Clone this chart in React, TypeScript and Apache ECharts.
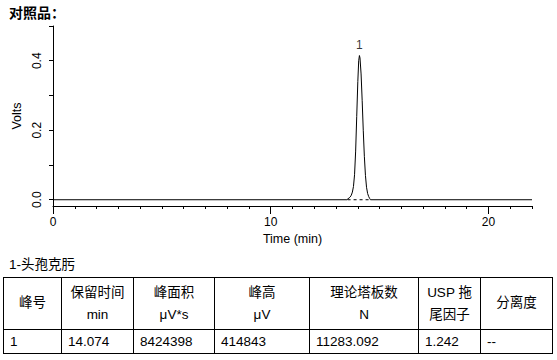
import { useEffect, useRef } from "react";
import * as echarts from "echarts";

// ---------- data ----------
const sampleTitle = "对照品：";
const compoundTitle = "1-头孢克肟";

const timeMin = [
  0, 13.5, 13.55, 13.6, 13.65, 13.7, 13.75, 13.8, 13.85, 13.9, 13.95, 14.0, 14.04,
  14.074, 14.1, 14.15, 14.2, 14.25, 14.3, 14.35, 14.4, 14.45, 14.5, 14.55, 14.58, 22,
];
const volts = [
  0, 0, 0.003, 0.005, 0.008, 0.013, 0.022, 0.038, 0.072, 0.14, 0.24, 0.34, 0.4,
  0.415, 0.408, 0.362, 0.285, 0.2, 0.125, 0.07, 0.036, 0.018, 0.009, 0.003, 0, 0,
];

const peakTimes = [14.074];
const peakHeights = [0.415];
const peakNames = ["1"];

const baselineTimes = [13.53, 14.57];
const baselineVolts = [0, 0];

const xTickValues = [0, 1, 2, 3, 4, 5, 6, 7, 8, 9, 10, 11, 12, 13, 14, 15, 16, 17, 18, 19, 20, 21, 22];
const xMajorValues = [0, 10, 20];
const yTickValues = [0, 0.1, 0.2, 0.3, 0.4, 0.5];
const yLabelValues = [0, 0.2, 0.4];

const tableHeadLine1 = ["峰号", "保留时间", "峰面积", "峰高", "理论塔板数", "USP 拖", "分离度"];
const tableHeadLine2 = ["", "min", "μV*s", "μV", "N", "尾因子", ""];
const tableRow = ["1", "14.074", "8424398", "414843", "11283.092", "1.242", "--"];

// ---------- layout ----------
const W = 557;
const H = 360;
const FONT = "'Liberation Sans', Arial, 'Noto Sans CJK SC', sans-serif";
const colX = [3, 61, 133, 214, 309, 418, 480, 552];
const rowY = [277, 329, 353];

function buildTable(): any[] {
  const els: any[] = [];
  const line = (x1: number, y1: number, x2: number, y2: number) => ({
    type: "line",
    shape: { x1, y1, x2, y2 },
    style: { stroke: "#000", lineWidth: 1 },
    silent: true,
  });
  rowY.forEach((y) => els.push(line(colX[0], y + 0.5, colX[colX.length - 1], y + 0.5)));
  colX.forEach((x) => els.push(line(x + 0.5, rowY[0], x + 0.5, rowY[rowY.length - 1] + 1)));
  const txt = (text: string, x: number, y: number, align: string) => ({
    type: "text",
    x,
    y,
    silent: true,
    style: {
      text,
      fill: "#000",
      fontSize: 13.5,
      fontFamily: FONT,
      textAlign: align,
      textVerticalAlign: "middle",
      align,
      verticalAlign: "middle",
    },
  });
  for (let i = 0; i < tableHeadLine1.length; i++) {
    const cx = (colX[i] + colX[i + 1]) / 2 + 0.5;
    if (tableHeadLine2[i]) {
      els.push(txt(tableHeadLine1[i], cx, 292, "center"));
      els.push(txt(tableHeadLine2[i], cx, 314, "center"));
    } else {
      els.push(txt(tableHeadLine1[i], cx, 302, "center"));
    }
    els.push(txt(tableRow[i], colX[i] + 7, 341.5, "left"));
  }
  els.push(txt(compoundTitle, 9, 264, "left"));
  els.push({
    type: "text",
    x: 9,
    y: 13,
    silent: true,
    style: {
      text: sampleTitle,
      fill: "#000",
      fontSize: 14,
      fontWeight: "bold",
      fontFamily: FONT,
      textAlign: "left",
      textVerticalAlign: "middle",
      align: "left",
      verticalAlign: "middle",
    },
  });
  return els;
}

export default function App() {
  const ref = useRef<HTMLDivElement>(null);
  useEffect(() => {
    if (!ref.current) return;
    const chart = echarts.init(ref.current, undefined, { renderer: "svg" });
    const axisText = { color: "#000", fontSize: 12, fontFamily: FONT };
    chart.setOption({
      animation: false,
      backgroundColor: "#fff",
      textStyle: { fontFamily: FONT, color: "#000" },
      grid: { left: 53, right: 25, top: 26, bottom: 154, containLabel: false },
      xAxis: [
        {
          type: "value",
          min: 0,
          max: 22,
          position: "bottom",
          name: "Time (min)",
          nameLocation: "middle",
          nameGap: 27,
          nameTextStyle: { ...axisText, fontSize: 12.5 },
          axisLine: { show: true, onZero: false, lineStyle: { color: "#000", width: 1 } },
          axisTick: { show: true, length: 3, customValues: xTickValues, lineStyle: { color: "#000" } },
          axisLabel: { ...axisText, margin: 10, customValues: xMajorValues, formatter: (v: number) => String(v) },
          splitLine: { show: false },
        },
        {
          type: "value",
          min: 0,
          max: 22,
          position: "bottom",
          axisLine: { show: false, onZero: false },
          axisTick: { show: true, length: 8, customValues: xMajorValues, lineStyle: { color: "#000" } },
          axisLabel: { show: false },
          splitLine: { show: false },
        },
      ],
      yAxis: {
        type: "value",
        min: -0.018,
        max: 0.5,
        name: "Volts",
        nameLocation: "middle",
        nameGap: 28,
        nameRotate: 90,
        nameTextStyle: { ...axisText, fontSize: 12.5 },
        axisLine: { show: true, lineStyle: { color: "#000", width: 1 } },
        axisTick: { show: true, length: 4, customValues: yTickValues, lineStyle: { color: "#000" } },
        axisLabel: {
          ...axisText,
          rotate: 90,
          margin: 10,
          customValues: yLabelValues,
          formatter: (v: number) => v.toFixed(1),
        },
        splitLine: { show: false },
      },
      graphic: buildTable(),
      series: [
        {
          type: "line",
          xAxisIndex: 0,
          data: timeMin.map((t, i) => [t, volts[i]]),
          showSymbol: false,
          symbol: "none",
          lineStyle: { color: "#000", width: 1 },
          silent: true,
        },
        {
          type: "line",
          xAxisIndex: 0,
          data: baselineTimes.map((t, i) => [t, baselineVolts[i]]),
          showSymbol: false,
          symbol: "none",
          lineStyle: { color: "#000", width: 1, type: [3, 3] },
          silent: true,
        },
        {
          type: "scatter",
          xAxisIndex: 0,
          data: peakTimes.map((t, i) => [t, peakHeights[i]]),
          symbolSize: 1,
          itemStyle: { color: "rgba(0,0,0,0)" },
          label: {
            show: true,
            position: "top",
            distance: 4,
            formatter: (p: any) => peakNames[p.dataIndex],
            color: "#000",
            fontSize: 12,
            fontFamily: FONT,
          },
          silent: true,
        },
      ],
    });
    return () => chart.dispose();
  }, []);
  return (
    <div
      ref={ref}
      style={{ position: "fixed", left: 0, top: 0, width: W, height: H, background: "#fff" }}
    />
  );
}
